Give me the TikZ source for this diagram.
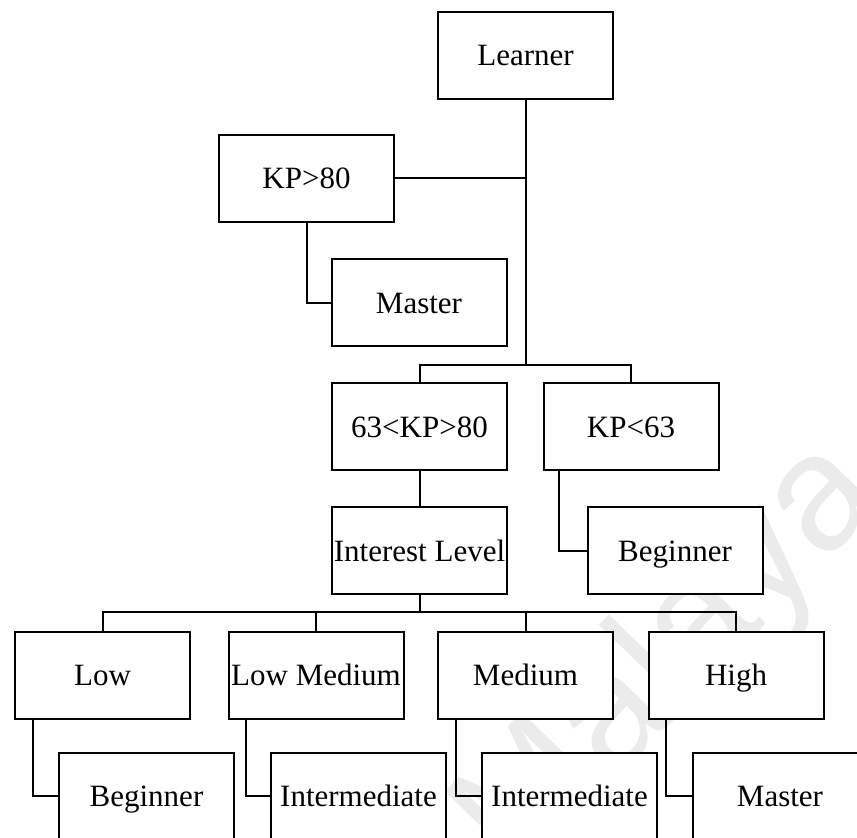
\documentclass[tikz,border=0pt]{standalone}
\usepackage{fontspec}
\setmainfont{Liberation Serif}
\newfontfamily\markfont{Liberation Sans}
\begin{document}
\begin{tikzpicture}[x=1pt,y=-1pt,
  box/.style={draw=black,line width=2pt,fill=white,minimum width=175pt,minimum height=87pt,
    inner sep=0pt,text height=21pt,text depth=0pt,font=\fontsize{31}{36}\selectfont},
  link/.style={draw=black,line width=2pt}]
\useasboundingbox (0,0) rectangle (857,838);
\clip (0,0) rectangle (857,838);
% faint background watermark
\node[text=black!8,rotate=46,font=\markfont\fontsize{165}{170}\selectfont] (wm) at (672,660) {Malaya};

% level 0 and 1
\node[box] (learner) at (525.5,55) {Learner};
\node[box] (kp80) at (306.5,178) {KP>80};
\node[box] (master1) at (419,302.5) {Master};
\node[box] (mid) at (419.5,426.5) {63<KP>80};
\node[box] (kp63) at (631,426.5) {KP<63};
\node[box] (interest) at (419.5,550.5) {Interest Level};
\node[box] (beg1) at (675,550.5) {Beginner};
% interest levels
\node[box] (low) at (102.5,675) {Low};
\node[box] (lowmed) at (316,675) {Low Medium};
\node[box] (medium) at (525.5,675) {Medium};
\node[box] (high) at (736,675) {High};
% outcomes
\node[box] (beg2) at (146.5,796) {Beginner};
\node[box] (int1) at (358.5,796) {Intermediate};
\node[box] (int2) at (569.5,796) {Intermediate};
\node[box] (master2) at (780,796) {Master};

% junctions
\coordinate (j1) at (525.5,365);
\coordinate (j2) at (419.5,612);

% connectors
\draw[link] (learner.south) -- (j1);
\draw[link] (kp80.east) -- (kp80.east -| learner.south);
\draw[link] (kp80.south) |- (master1.west);
\draw[link] (mid.north) |- (j1) -| (kp63.north);
\draw[link] (mid.south) -- (interest.north);
\draw[link] ([xshift=16pt]kp63.south west) |- (beg1.west);
\draw[link] (interest.south) -- (j2);
\draw[link] (low.north) |- (j2) -| (high.north);
\draw[link] (lowmed.north) -- (lowmed.north |- j2);
\draw[link] (medium.north) -- (medium.north |- j2);
\draw[link] ([xshift=18.5pt]low.south west) |- (beg2.west);
\draw[link] ([xshift=18.5pt]lowmed.south west) |- (int1.west);
\draw[link] ([xshift=18.5pt]medium.south west) |- (int2.west);
\draw[link] ([xshift=18.5pt]high.south west) |- (master2.west);
\end{tikzpicture}
\end{document}
